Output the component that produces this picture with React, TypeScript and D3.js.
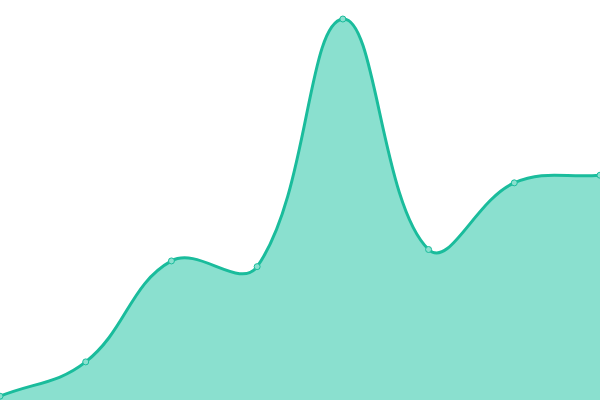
import React from "react";
import * as d3 from "d3";

const labels = ["A", "B", "C", "D", "E", "F", "G", "H"];
const values = [1, 10, 36.5, 35, 100, 39.5, 57, 59];

const W = 600;
const H = 400;
const TENSION = 0.4;

type P = { x: number; y: number };

function splinePath(pts: P[], closeBottom: number | null): string {
  const cps = pts.map((cur, i) => {
    const prev = pts[i - 1] || cur;
    const next = pts[i + 1] || cur;
    const d01 = Math.hypot(cur.x - prev.x, cur.y - prev.y);
    const d12 = Math.hypot(next.x - cur.x, next.y - cur.y);
    let s01 = d01 / (d01 + d12);
    let s12 = d12 / (d01 + d12);
    if (!isFinite(s01)) s01 = 0;
    if (!isFinite(s12)) s12 = 0;
    const fa = s01 * TENSION;
    const fb = s12 * TENSION;
    const clampY = (v: number) => Math.max(0, Math.min(H, v));
    const clampX = (v: number) => Math.max(0, Math.min(W, v));
    return {
      prev: { x: clampX(cur.x - fa * (next.x - prev.x)), y: clampY(cur.y - fa * (next.y - prev.y)) },
      next: { x: clampX(cur.x + fb * (next.x - prev.x)), y: clampY(cur.y + fb * (next.y - prev.y)) },
    };
  });
  const p = d3.path();
  p.moveTo(pts[0].x, pts[0].y);
  for (let i = 1; i < pts.length; i++) {
    const a = cps[i - 1].next;
    const b = cps[i].prev;
    p.bezierCurveTo(a.x, a.y, b.x, b.y, pts[i].x, pts[i].y);
  }
  if (closeBottom !== null) {
    p.lineTo(pts[pts.length - 1].x, closeBottom);
    p.lineTo(pts[0].x, closeBottom);
    p.closePath();
  }
  return p.toString();
}

export default function App() {
  const x = d3.scalePoint<string>().domain(labels).range([0, W]);
  const y = d3.scaleLinear().domain([0, 100]).range([400, 19]);
  const pts: P[] = values.map((v, i) => ({ x: x(labels[i]) as number, y: y(v) }));
  return (
    <svg
      width={W}
      height={H}
      style={{ position: "fixed", left: 0, top: 0, display: "block" }}
    >
      <rect width={W} height={H} fill="#ffffff" />
      <path d={splinePath(pts, y(0))} fill="#8ae0cf" />
      <path d={splinePath(pts, null)} fill="none" stroke="#1abc9c" strokeWidth={3} />
      {pts.map((pt, i) => (
        <circle
          key={i}
          cx={pt.x}
          cy={pt.y}
          r={3}
          fill="#8ae0cf"
          stroke="#1abc9c"
          strokeWidth={1}
        />
      ))}
    </svg>
  );
}
